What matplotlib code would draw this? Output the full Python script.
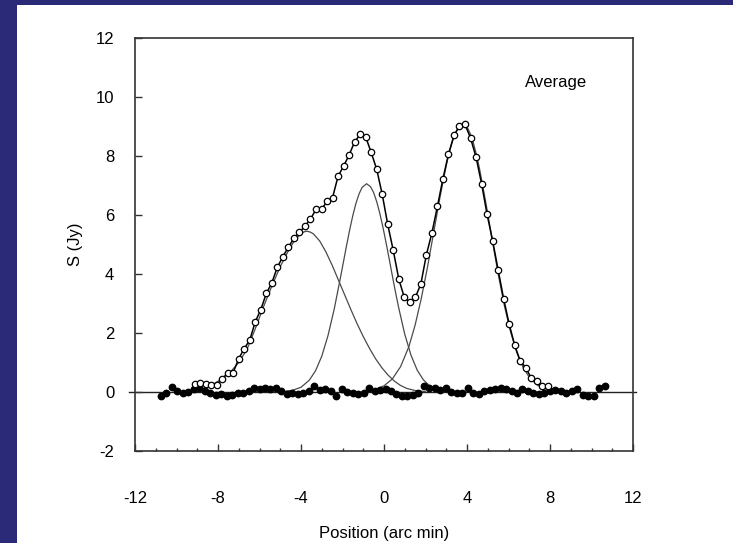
import matplotlib.pyplot as plt
from matplotlib.patches import Rectangle
from matplotlib.ticker import MultipleLocator
import numpy as np

# --- 1. Dados ---

# Perfil médio observado (círculos abertos), amostragem regular em posição
obs_start = -9.13
obs_step = 0.266
obs_flux = [0.26, 0.32, 0.28, 0.24, 0.24, 0.45, 0.64, 0.66, 1.13, 1.47,
            1.76, 2.38, 2.79, 3.34, 3.70, 4.23, 4.59, 4.91, 5.21, 5.42,
            5.62, 5.86, 6.19, 6.19, 6.46, 6.59, 7.31, 7.66, 8.03, 8.48,
            8.73, 8.65, 8.12, 7.55, 6.70, 5.68, 4.80, 3.83, 3.21, 3.04,
            3.21, 3.66, 4.65, 5.39, 6.29, 7.23, 8.06, 8.70, 9.01, 9.07,
            8.61, 7.96, 7.06, 6.02, 5.13, 4.14, 3.16, 2.30, 1.59, 1.05,
            0.83, 0.47, 0.37, 0.20, 0.20]

# Resíduos / linha de base (pontos cheios)
res_start = -10.75
res_step = 0.264
res_flux = [-0.12, -0.05, 0.17, 0.05, -0.02, 0.00, 0.10, 0.12, 0.05, -0.05,
            -0.10, -0.08, -0.12, -0.09, -0.03, -0.05, 0.05, 0.12, 0.10, 0.13,
            0.10, 0.12, 0.02, -0.06, -0.04, -0.07, -0.03, 0.05, 0.20, 0.08,
            0.10, 0.05, -0.12, 0.10, 0.00, -0.05, -0.06, -0.03, 0.12, 0.05,
            0.08, 0.10, 0.02, -0.08, -0.15, -0.12, -0.10, -0.02, 0.20, 0.15,
            0.12, 0.08, 0.12, 0.00, -0.05, -0.03, 0.12, -0.03, -0.06, 0.05,
            0.08, 0.10, 0.14, 0.10, 0.03, -0.02, 0.10, 0.05, -0.05, -0.08,
            -0.03, 0.05, 0.08, 0.03, -0.02, 0.02, 0.10, -0.10, -0.13, -0.15,
            0.15, 0.20]

# Componentes ajustadas (linhas finas)
comp1_x = [-9.4, -9.0, -8.6, -8.2, -7.8, -7.4, -7.0, -6.6, -6.2, -5.8,
           -5.4, -5.0, -4.6, -4.3, -4.0, -3.85, -3.7, -3.55, -3.4, -3.1,
           -2.8, -2.5, -2.2, -1.9, -1.6, -1.3, -1.0, -0.7, -0.4, -0.1,
           0.2, 0.5, 0.8, 1.1, 1.5, 2.0]
comp1_y = [0.02, 0.08, 0.15, 0.28, 0.45, 0.68, 1.00, 1.45, 2.15, 2.90,
           3.60, 4.25, 4.80, 5.15, 5.37, 5.43, 5.45, 5.42, 5.36, 5.12,
           4.75, 4.30, 3.80, 3.30, 2.80, 2.32, 1.88, 1.48, 1.12, 0.82,
           0.57, 0.37, 0.22, 0.12, 0.05, 0.01]

comp2_x = [-4.8, -4.4, -4.0, -3.6, -3.3, -3.0, -2.7, -2.4, -2.1, -1.8,
           -1.65, -1.5, -1.35, -1.2, -1.05, -0.84, -0.65, -0.5, -0.35, -0.2,
           -0.05, 0.1, 0.25, 0.4, 0.55, 0.7, 1.0, 1.3, 1.6, 1.9,
           2.2, 2.6, 3.0]
comp2_y = [0.02, 0.06, 0.16, 0.40, 0.72, 1.21, 1.91, 2.81, 3.87, 4.98,
           5.51, 5.99, 6.40, 6.72, 6.94, 7.06, 6.96, 6.76, 6.45, 6.05,
           5.58, 5.06, 4.51, 3.95, 3.40, 2.88, 1.96, 1.25, 0.74, 0.41,
           0.21, 0.08, 0.02]

comp3_x = [-0.4, 0.0, 0.4, 0.8, 1.2, 1.5, 1.8, 2.1, 2.4, 2.7,
           3.0, 3.15, 3.3, 3.42, 3.55, 3.67, 3.8, 3.93, 4.05, 4.18,
           4.3, 4.45, 4.6, 4.9, 5.2, 5.5, 5.8, 6.1, 6.4, 6.7,
           7.0, 7.4, 7.8, 8.3]
comp3_y = [0.09, 0.21, 0.44, 0.86, 1.54, 2.27, 3.18, 4.25, 5.43, 6.61,
           7.68, 8.13, 8.50, 8.74, 8.93, 9.04, 9.08, 9.04, 8.92, 8.72,
           8.46, 8.06, 7.58, 6.45, 5.22, 4.01, 2.93, 2.04, 1.34, 0.84,
           0.50, 0.23, 0.10, 0.03]

obs_pos = obs_start + obs_step * np.arange(len(obs_flux))
res_pos = res_start + res_step * np.arange(len(res_flux))

# --- 2. Figura com moldura azul ---
plt.rcParams['font.family'] = ['Liberation Sans', 'DejaVu Sans']
plt.rcParams['axes.unicode_minus'] = False

fig = plt.figure(figsize=(7.33, 5.43), dpi=100)
fig.patch.set_facecolor('#2a2a78')
fig.add_artist(Rectangle((17 / 733, 0), 1, 1 - 5 / 543, transform=fig.transFigure,
                         facecolor='white', edgecolor='none', zorder=-1))

ax = fig.add_axes([135 / 733, 1 - 451 / 543, 498 / 733, 413 / 543])
ax.set_facecolor('white')

# linha do zero (passa um pouco das bordas)
ax.plot([-12.3, 12.15], [0, 0], color='#222222', lw=1.0, clip_on=False, zorder=1)

# componentes
for cx, cy in [(comp1_x, comp1_y), (comp2_x, comp2_y), (comp3_x, comp3_y)]:
    ax.plot(cx, cy, color='#4a4a4a', lw=0.9, zorder=2)

# resíduos
ax.plot(res_pos, res_flux, 'o', color='black', ms=4.6, zorder=3)

# perfil observado
ax.plot(obs_pos, obs_flux, '-', color='black', lw=1.1, zorder=4)
ax.plot(obs_pos, obs_flux, 'o', mfc='white', mec='black', mew=0.9, ms=4.6, zorder=5)

ax.text(8.3, 10.5, 'Average', ha='center', va='center', fontsize=12)

# --- 3. Eixos ---
ax.set_xlim(-12, 12)
ax.set_ylim(-2, 12)
ax.xaxis.set_major_locator(MultipleLocator(4))
ax.xaxis.set_minor_locator(MultipleLocator(1))
ax.yaxis.set_major_locator(MultipleLocator(2))
ax.tick_params(axis='x', which='major', direction='in', length=5, width=1,
               pad=29, labelsize=12, color='#333333')
ax.tick_params(axis='x', which='minor', direction='in', length=2.5, width=1,
               color='#333333')
ax.tick_params(axis='y', which='major', direction='in', length=5, width=1,
               pad=15, labelsize=12, color='#333333')
for s in ax.spines.values():
    s.set_color('#333333')
    s.set_linewidth(1.2)

ax.set_xlabel('Position (arc min)', fontsize=12, labelpad=14)
ax.set_ylabel('S (Jy)', fontsize=12, labelpad=9)

plt.savefig('out.png', dpi=100, facecolor=fig.get_facecolor())
